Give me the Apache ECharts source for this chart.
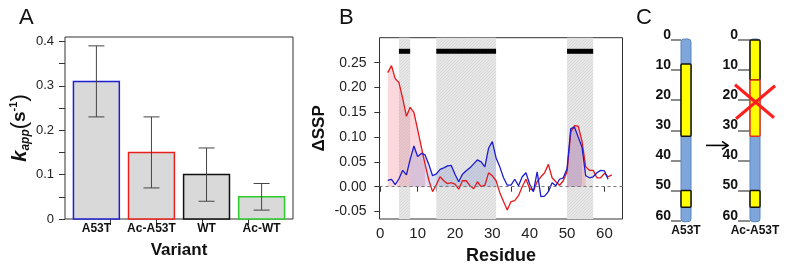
<!DOCTYPE html>
<html>
<head>
<meta charset="utf-8">
<script src="https://cdn.jsdelivr.net/npm/echarts@6/dist/echarts.min.js"></script>
<style>
    html, body { margin: 0; padding: 0; background: #fff; }
    #main { width: 790px; height: 272px; }
</style>
</head>
<body>
<div id="main"></div>
<script>
// A: 表观速率常数
var variants = ['A53T', 'Ac-A53T', 'WT', 'Ac-WT']
var kapp = [0.31, 0.15, 0.10, 0.05]
var kappLow = [0.23, 0.07, 0.04, 0.02]
var kappHigh = [0.39, 0.23, 0.16, 0.08]
var kTicks = [0, 0.05, 0.1, 0.15, 0.2, 0.25, 0.3, 0.35, 0.4]
var kLabels = [0, 0.1, 0.2, 0.3, 0.4]
var variantTicks = [1, 2, 3, 4]

// B: ΔSSP 按残基
var residues = [2, 3, 4, 5, 6, 7, 8, 9, 10, 11, 12, 13, 14, 15, 16, 17, 18, 19, 20, 21,
    22, 23, 24, 25, 26, 27, 28, 29, 30, 31, 32, 33, 34, 35, 36, 37, 38, 39, 40, 41,
    42, 43, 44, 45, 46, 47, 48, 49, 50, 51, 52, 53, 54, 55, 56, 57, 58, 59, 60, 61, 62]
var sspRed = [0.230, 0.244, 0.218, 0.210, 0.178, 0.142, 0.160, 0.150, 0.115, 0.080,
    0.045, 0.013, -0.010, 0.004, 0.020, 0.012, 0.006, 0.008, 0.005, -0.005,
    0.012, 0.012, 0.002, -0.004, 0.010, 0.000, 0.003, 0.028, 0.022, 0.012,
    -0.012, -0.030, -0.047, -0.030, -0.028, -0.018, 0.000, 0.015, -0.004, -0.008,
    0.010, 0.020, 0.028, 0.045, 0.018, 0.010, 0.003, 0.012, 0.030, 0.110,
    0.123, 0.122, 0.092, 0.040, 0.033, 0.033, 0.018, 0.018, 0.027, 0.020, 0.024]
var sspBlue = [0.013, 0.015, 0.004, 0.016, 0.033, 0.024, 0.055, 0.082, 0.061, 0.067,
    0.064, 0.045, 0.022, 0.026, 0.035, 0.038, 0.042, 0.043, 0.025, 0.010,
    0.025, 0.032, 0.038, 0.046, 0.054, 0.050, 0.040, 0.078, 0.091, 0.058,
    0.040, 0.018, 0.003, 0.003, 0.015, 0.002, 0.020, 0.028, 0.005, -0.010,
    0.030, -0.020, -0.019, -0.010, 0.008, 0.002, 0.015, 0.018, 0.036, 0.117,
    0.120, 0.100, 0.080, 0.022, 0.018, 0.020, 0.028, 0.033, 0.032, 0.015, null]
var helixRegions = [[5, 8], [15, 31], [50, 57]]
var helixBarLevel = 0.273
var redFillRanges = [[2, 12], [50, 55]]
var blueFillRanges = [[8, 31], [50, 54]]
var resTicks = [0, 5, 10, 15, 20, 25, 30, 35, 40, 45, 50, 55, 60]
var resLabels = [0, 10, 20, 30, 40, 50, 60]
var sspTicks = [-0.05, 0, 0.05, 0.1, 0.15, 0.2, 0.25]

// C: 螺旋示意
var columns = ['A53T', 'Ac-A53T']
var chainEnd = 60
var segments = [
    [[8, 32, 0], [50, 55.5, 0]],
    [[0, 13.3, 0], [13.3, 32, 1], [50, 55.5, 0]]
]
var cTicks = [0, 10, 20, 30, 40, 50, 60]
var crossAt = 20.5
var arrowAt = 35

var font = 'Liberation Sans, Arial, sans-serif'
var barEdge = ['#1f1fd2', '#e8201c', '#111111', '#2ccc2c']

function inRanges(r, ranges) {
    return ranges.some(function (g) { return r >= g[0] && r <= g[1] })
}
function pairData(vals, ranges) {
    return residues.map(function (r, i) {
        let ok = vals[i] != null && (!ranges || inRanges(r, ranges))
        return [r, ok ? vals[i] : '-']
    })
}
function hatchCanvas() {
    let c = document.createElement('canvas')
    c.width = 3
    c.height = 3
    let g = c.getContext('2d')
    g.fillStyle = '#e7e7e7'
    g.fillRect(0, 0, 3, 3)
    g.strokeStyle = '#d9d9d9'
    g.lineWidth = 1
    g.beginPath()
    g.moveTo(0, 3)
    g.lineTo(3, 0)
    g.stroke()
    return c
}
var hatch = hatchCanvas()

function panelTitle(text, left) {
    return { text: text, left: left, top: 7, padding: 0,
        textStyle: { fontSize: 22, fontWeight: 'normal', color: '#111', fontFamily: font } }
}

var boxGrid = { show: true, borderColor: '#333', borderWidth: 1, backgroundColor: 'transparent' }
var cLabel = { customValues: cTicks, fontSize: 14, fontWeight: 'bold', color: '#111',
    fontFamily: font, verticalAlign: 'bottom', lineHeight: 10 }
function cTick(len) {
    return { show: true, customValues: cTicks, length: len, lineStyle: { color: '#8c8c8c', width: 2 } }
}

var option = {
    animation: false,
    backgroundColor: '#fff',
    title: [panelTitle('A', 19), panelTitle('B', 339), panelTitle('C', 636)],
    grid: [
        Object.assign({ left: 65, top: 37, width: 228, height: 182 }, boxGrid),
        Object.assign({ left: 379.5, top: 37.7, width: 243, height: 181.3 }, boxGrid),
        { left: 681, top: 40, width: 10, height: 180.7 },
        { left: 750, top: 40, width: 10, height: 180.7 }
    ],
    xAxis: [
        {
            gridIndex: 0, type: 'value', min: 0.016, max: 4.984,
            name: 'Variant', nameLocation: 'middle', nameGap: 10,
            nameTextStyle: { fontSize: 17, fontWeight: 'bold', color: '#111', fontFamily: font, lineHeight: 20 },
            axisLine: { show: false }, splitLine: { show: false },
            axisTick: { customValues: variantTicks, length: 6, lineStyle: { color: '#333' } },
            axisLabel: {
                customValues: variants.map(function (v, i) { return 0.7 + 1.2 * i }),
                formatter: function (v) { return variants[Math.round((v - 0.7) / 1.2)] },
                margin: 4, fontSize: 12, fontWeight: 'bold', color: '#111', fontFamily: font
            }
        },
        {
            gridIndex: 1, type: 'value', min: -0.21, max: 64.85,
            name: 'Residue', nameLocation: 'middle', nameGap: 23,
            nameTextStyle: { fontSize: 18, fontWeight: 'bold', color: '#111', fontFamily: font, lineHeight: 20 },
            axisLine: { show: false }, splitLine: { show: false },
            axisTick: { customValues: resTicks, length: 5, lineStyle: { color: '#333' } },
            axisLabel: { customValues: resLabels, margin: 7, fontSize: 15, color: '#222', fontFamily: font }
        },
        {
            gridIndex: 2, type: 'category', data: [columns[0]],
            axisLine: { show: false }, axisTick: { show: false },
            axisLabel: { margin: 4, fontSize: 12, fontWeight: 'bold', color: '#111', fontFamily: font }
        },
        {
            gridIndex: 3, type: 'category', data: [columns[1]],
            axisLine: { show: false }, axisTick: { show: false },
            axisLabel: { margin: 4, fontSize: 12, fontWeight: 'bold', color: '#111', fontFamily: font }
        }
    ],
    yAxis: [
        {
            gridIndex: 0, type: 'value', min: 0, max: 0.41,
            name: '{k|k}{sub|app}{par|(}{s|s}{sup|-1}{par|)}',
            nameLocation: 'middle', nameRotate: 90, nameGap: 33,
            nameTextStyle: {
                rich: {
                    k: { fontSize: 20, fontWeight: 'bold', fontStyle: 'italic', fontFamily: font, color: '#111', lineHeight: 24, verticalAlign: 'middle' },
                    sub: { fontSize: 12, fontWeight: 'bold', fontStyle: 'italic', fontFamily: font, color: '#111', lineHeight: 12, verticalAlign: 'bottom' },
                    par: { fontSize: 22, fontFamily: font, color: '#111', lineHeight: 24, verticalAlign: 'middle' },
                    s: { fontSize: 19, fontWeight: 'bold', fontFamily: font, color: '#111', lineHeight: 24, verticalAlign: 'middle' },
                    sup: { fontSize: 11, fontWeight: 'bold', fontFamily: font, color: '#111', lineHeight: 12, verticalAlign: 'top' }
                }
            },
            axisLine: { show: false }, splitLine: { show: false },
            axisTick: { customValues: kTicks, length: 6, lineStyle: { color: '#333' } },
            axisLabel: {
                customValues: kLabels, margin: 11, fontSize: 13, color: '#222', fontFamily: font,
                formatter: function (v) { return v === 0 ? '0' : v.toFixed(1) }
            }
        },
        {
            gridIndex: 1, type: 'value', min: -0.0651, max: 0.3004,
            name: 'ΔSSP', nameLocation: 'middle', nameRotate: 90, nameGap: 50,
            nameTextStyle: { fontSize: 17, fontWeight: 'bold', color: '#111', fontFamily: font, lineHeight: 20 },
            axisLine: { show: false }, splitLine: { show: false },
            axisTick: { customValues: sspTicks, length: 6, lineStyle: { color: '#333' } },
            axisLabel: {
                customValues: sspTicks, margin: 13, fontSize: 14, color: '#222', fontFamily: font,
                formatter: function (v) { return v.toFixed(2) }
            }
        },
        {
            gridIndex: 2, type: 'value', min: 0, max: chainEnd, inverse: true,
            axisLine: { show: false }, splitLine: { show: false },
            axisTick: cTick(10),
            axisLabel: Object.assign({ margin: 10 }, cLabel)
        },
        {
            gridIndex: 3, type: 'value', min: 0, max: chainEnd, inverse: true,
            axisLine: { show: false }, splitLine: { show: false },
            axisTick: cTick(12),
            axisLabel: Object.assign({ margin: 12 }, cLabel)
        }
    ],
    series: [
        // A 柱子
        {
            type: 'custom', xAxisIndex: 0, yAxisIndex: 0, z: 2,
            data: kapp.map(function (v, i) { return [i, v] }),
            renderItem: function (params, api) {
                let i = api.value(0)
                let p0 = api.coord([0.2 + 1.2 * i, api.value(1)])
                let p1 = api.coord([1.2 + 1.2 * i, 0])
                return {
                    type: 'rect',
                    shape: { x: p0[0], y: p0[1], width: p1[0] - p0[0], height: p1[1] - p0[1] },
                    style: { fill: '#d9d9d9', stroke: barEdge[i], lineWidth: 1.5 }
                }
            }
        },
        // A 误差线
        {
            type: 'custom', xAxisIndex: 0, yAxisIndex: 0, z: 3,
            data: kapp.map(function (v, i) { return [i, kappLow[i], kappHigh[i]] }),
            renderItem: function (params, api) {
                let x = 0.7 + 1.2 * api.value(0)
                let lo = api.coord([x, api.value(1)])
                let hi = api.coord([x, api.value(2)])
                let st = { stroke: '#444', lineWidth: 1 }
                return {
                    type: 'group',
                    children: [
                        { type: 'line', shape: { x1: lo[0], y1: lo[1], x2: hi[0], y2: hi[1] }, style: st },
                        { type: 'line', shape: { x1: lo[0] - 8, y1: lo[1], x2: lo[0] + 8, y2: lo[1] }, style: st },
                        { type: 'line', shape: { x1: hi[0] - 8, y1: hi[1], x2: hi[0] + 8, y2: hi[1] }, style: st }
                    ]
                }
            }
        },
        // B 阴影区
        {
            type: 'custom', xAxisIndex: 1, yAxisIndex: 1, z: 1, silent: true,
            data: helixRegions,
            renderItem: function (params, api) {
                let a = api.coord([api.value(0), 0])
                let b = api.coord([api.value(1), 0])
                let cs = params.coordSys
                return {
                    type: 'rect',
                    shape: { x: a[0], y: cs.y, width: b[0] - a[0], height: cs.height },
                    style: { fill: { image: hatch, repeat: 'repeat' } }
                }
            }
        },
        {
            type: 'line', xAxisIndex: 1, yAxisIndex: 1, z: 2, silent: true,
            data: pairData(sspRed, redFillRanges), showSymbol: false, symbol: 'none',
            lineStyle: { width: 0 }, areaStyle: { color: 'rgba(240,110,130,0.38)', origin: 0 }
        },
        {
            type: 'line', xAxisIndex: 1, yAxisIndex: 1, z: 2, silent: true,
            data: pairData(sspBlue, blueFillRanges), showSymbol: false, symbol: 'none',
            lineStyle: { width: 0 }, areaStyle: { color: 'rgba(80,100,200,0.28)', origin: 0 }
        },
        {
            type: 'line', xAxisIndex: 1, yAxisIndex: 1, z: 4,
            data: pairData(sspRed), showSymbol: false, symbol: 'none',
            lineStyle: { color: '#e3191c', width: 1.3 },
            markLine: {
                silent: true, symbol: 'none', label: { show: false },
                lineStyle: { color: '#777', type: [3, 3], width: 1 },
                data: [{ yAxis: 0 }]
            }
        },
        {
            type: 'line', xAxisIndex: 1, yAxisIndex: 1, z: 4,
            data: pairData(sspBlue), showSymbol: false, symbol: 'none',
            lineStyle: { color: '#1c1cd0', width: 1.3 }
        },
        {
            type: 'custom', xAxisIndex: 1, yAxisIndex: 1, z: 5, silent: true,
            data: helixRegions,
            renderItem: function (params, api) {
                let a = api.coord([api.value(0), helixBarLevel])
                let b = api.coord([api.value(1), helixBarLevel])
                return {
                    type: 'rect',
                    shape: { x: a[0], y: a[1] - 2.5, width: b[0] - a[0], height: 5 },
                    style: { fill: '#000' }
                }
            }
        }
    ]
}

// C 两列：主链、螺旋段
columns.forEach(function (name, k) {
    option.series.push({
        type: 'custom', xAxisIndex: 2 + k, yAxisIndex: 2 + k, z: 2, silent: true,
        data: [[0, 0, chainEnd]],
        renderItem: function (params, api) {
            let w = api.size([1, 0])[0]
            let a = api.coord([0, api.value(1)])
            let b = api.coord([0, api.value(2)])
            return {
                type: 'rect',
                shape: { x: a[0] - w / 2, y: a[1] - 1, width: w, height: b[1] - a[1] + 2, r: 3 },
                style: { fill: '#7fa6db', stroke: '#5b85c0', lineWidth: 1 }
            }
        }
    })
    option.series.push({
        type: 'custom', xAxisIndex: 2 + k, yAxisIndex: 2 + k, z: 3, silent: true,
        data: segments[k].map(function (s) { return [0, s[0], s[1], s[2]] }),
        renderItem: function (params, api) {
            let w = api.size([1, 0])[0]
            let a = api.coord([0, api.value(1)])
            let b = api.coord([0, api.value(2)])
            return {
                type: 'rect',
                shape: { x: a[0] - w / 2, y: a[1], width: w, height: b[1] - a[1], r: 1 },
                style: { fill: '#ffff00', stroke: api.value(3) ? '#e0301e' : '#111', lineWidth: 1.5 }
            }
        }
    })
})
// 红叉与箭头
option.series.push({
    type: 'custom', xAxisIndex: 3, yAxisIndex: 3, z: 6, silent: true,
    data: [[0, crossAt]],
    renderItem: function (params, api) {
        let c = api.coord([0, api.value(1)])
        let st = { stroke: '#ff1e1e', lineWidth: 3 }
        return {
            type: 'group',
            children: [
                { type: 'line', shape: { x1: c[0] - 20, y1: c[1] - 17, x2: c[0] + 19, y2: c[1] + 16 }, style: st },
                { type: 'line', shape: { x1: c[0] + 20, y1: c[1] - 16, x2: c[0] - 19, y2: c[1] + 17 }, style: st }
            ]
        }
    }
})
option.series.push({
    type: 'custom', xAxisIndex: 3, yAxisIndex: 3, z: 6, silent: true,
    data: [[0, arrowAt]],
    renderItem: function (params, api) {
        let c = api.coord([0, api.value(1)])
        let x0 = c[0] - 49
        let x1 = c[0] - 27
        let st = { stroke: '#000', lineWidth: 1.6, fill: null }
        return {
            type: 'group',
            children: [
                { type: 'line', shape: { x1: x0, y1: c[1], x2: x1, y2: c[1] }, style: st },
                { type: 'polyline', shape: { points: [[x1 - 6, c[1] - 4], [x1, c[1]], [x1 - 6, c[1] + 4]] }, style: st }
            ]
        }
    }
})

var chart = echarts.init(document.getElementById('main'), null, { renderer: 'canvas' })
chart.setOption(option)
</script>
</body>
</html>
